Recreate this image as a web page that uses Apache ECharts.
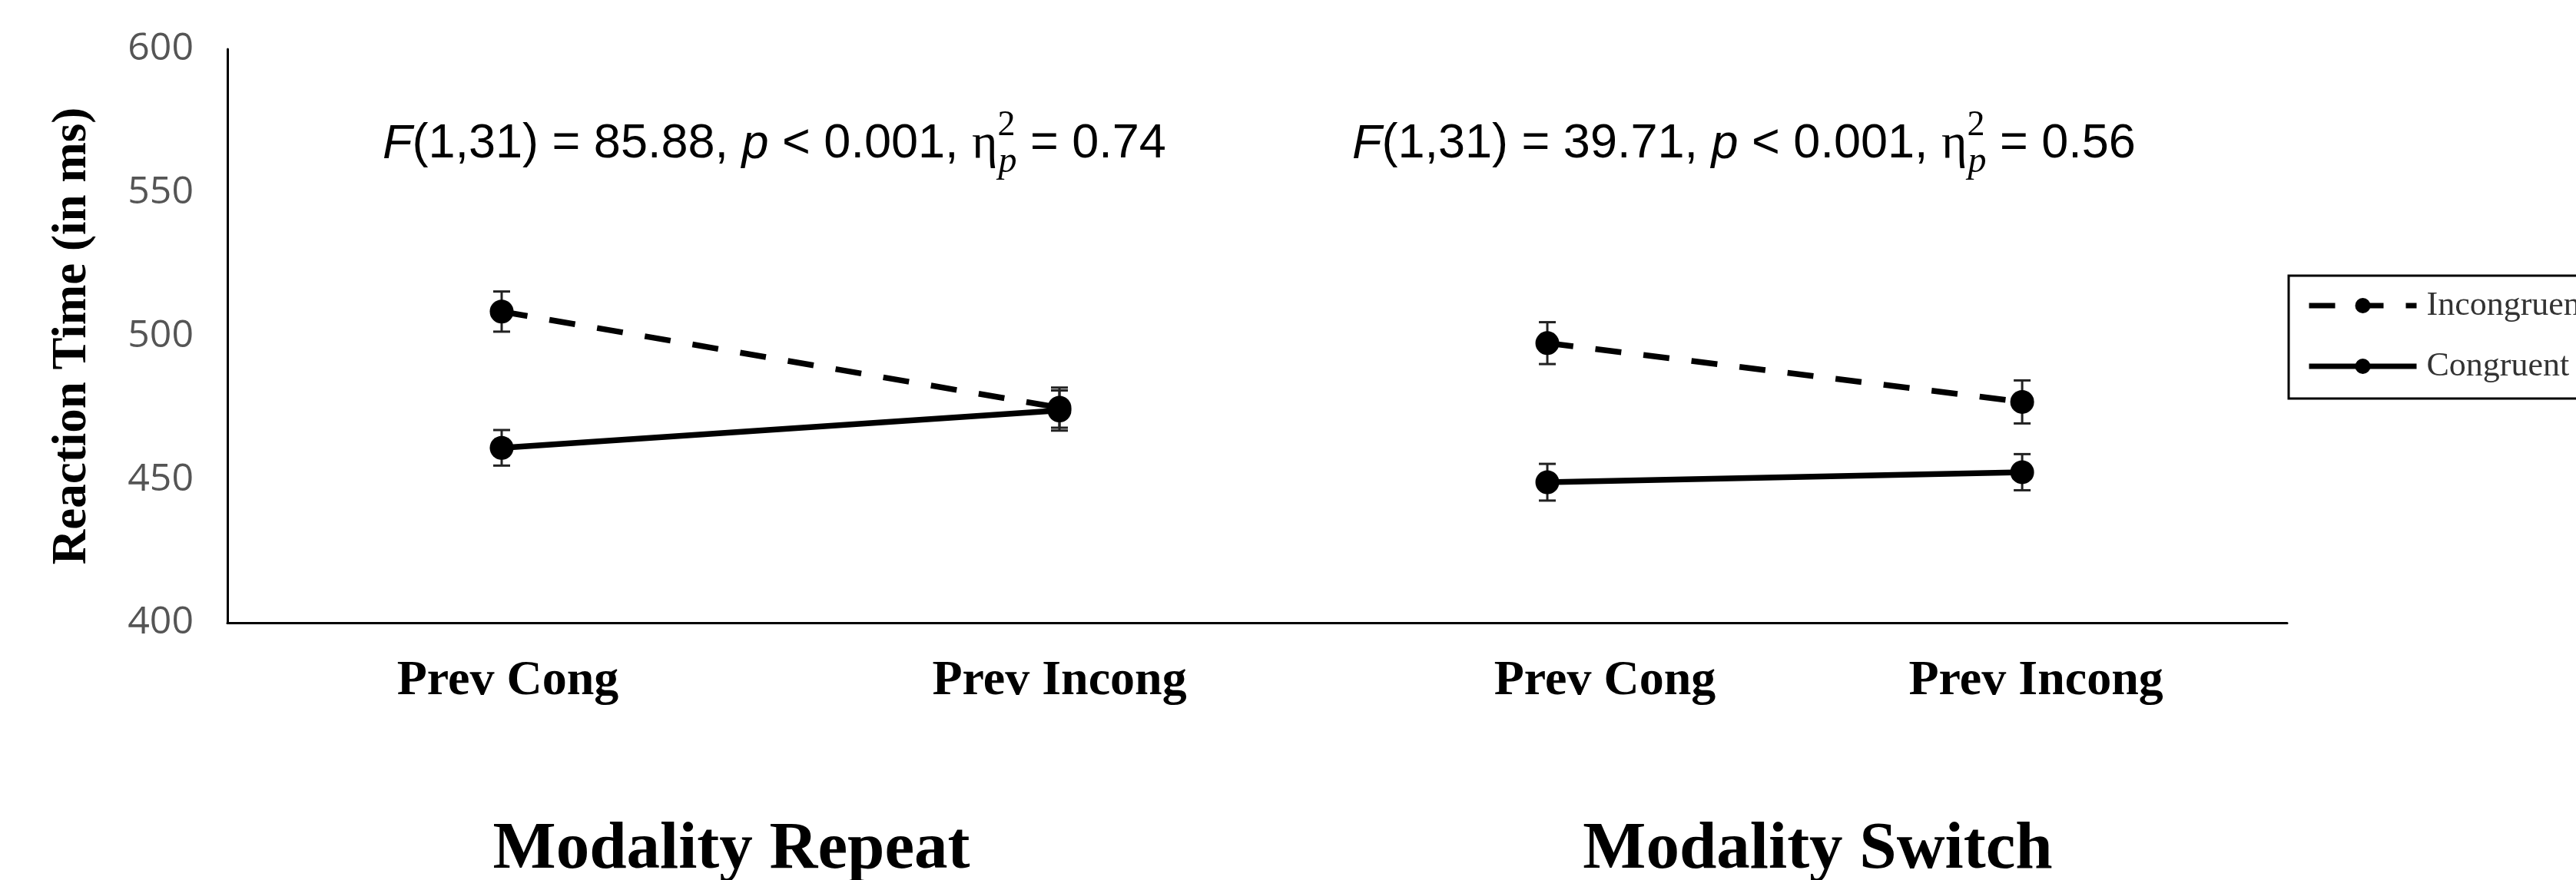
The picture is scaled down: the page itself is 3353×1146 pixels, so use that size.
<!DOCTYPE html>
<html><head><meta charset="utf-8">
<script src="https://cdn.jsdelivr.net/npm/echarts@6/dist/echarts.min.js"></script>
<style>html,body{margin:0;padding:0;background:#fff}#c{width:3353px;height:1146px}</style>
</head><body><div id="c"></div>
<script>
// ---- data ----
const conditions = ['Prev Cong', 'Prev Incong'];
const panelTitles = ['Modality Repeat', 'Modality Switch'];
const seriesNames = ['Incongruent', 'Congruent'];
const yTicks = [400, 450, 500, 550, 600];
const repeatIncongruent = [508.5, 475];
const repeatCongruent = [461, 474];
const switchIncongruent = [497.5, 477];
const switchCongruent = [449, 452.5];
const repeatIncongruentSE = [7, 7];
const repeatCongruentSE = [6.2, 7];
const switchIncongruentSE = [7.3, 7.5];
const switchCongruentSE = [6.4, 6.3];
const statsRepeat = ['85.88', '0.001', '0.74'];
const statsSwitch = ['39.71', '0.001', '0.56'];

// ---- helpers ----
const toPts = vals => vals.map((v, i) => [i, v]);
const toErr = (vals, se) => vals.map((v, i) => [i, v - se[i], v + se[i]]);

function lineSeries(name, vals, gi, dashed) {
  return {
    type: 'line', name, xAxisIndex: gi, yAxisIndex: gi, data: toPts(vals),
    symbol: 'circle', symbolSize: 31, z: 3,
    itemStyle: {color: '#000'},
    lineStyle: {color: '#000', width: 7.5, type: dashed ? [34, 29] : 'solid'}
  };
}
function errSeries(name, vals, se, gi) {
  return {
    type: 'custom', name: name + ' SE', xAxisIndex: gi, yAxisIndex: gi, silent: true, z: 2,
    data: toErr(vals, se),
    renderItem(params, api) {
      const x = api.value(0);
      const lo = api.coord([x, api.value(1)]);
      const hi = api.coord([x, api.value(2)]);
      const w = 11;
      const style = {stroke: '#222', lineWidth: 3};
      return {type: 'group', children: [
        {type: 'line', shape: {x1: lo[0], y1: lo[1], x2: hi[0], y2: hi[1]}, style},
        {type: 'line', shape: {x1: lo[0] - w, y1: lo[1], x2: lo[0] + w, y2: lo[1]}, style},
        {type: 'line', shape: {x1: hi[0] - w, y1: hi[1], x2: hi[0] + w, y2: hi[1]}, style}
      ]};
    }
  };
}
function statText(x, s) {
  return {
    type: 'text', x: x, y: 188, z: 10,
    style: {
      text: '{i|F}{n|(1,31) = ' + s[0] + ', }{i|p}{n| < ' + s[1] + ', }{g|η}{sup|2}{sub|p}{n| = ' + s[2] + '}',
      align: 'left', verticalAlign: 'middle',
      rich: {
        n: {fontFamily: 'Liberation Sans', fontSize: 63, lineHeight: 94, color: '#000'},
        i: {fontFamily: 'Liberation Sans', fontStyle: 'italic', fontSize: 63, lineHeight: 94, color: '#000'},
        g: {fontFamily: 'Liberation Serif', fontSize: 64, lineHeight: 94, color: '#000'},
        sup: {fontFamily: 'Liberation Serif', fontSize: 46, lineHeight: 46, verticalAlign: 'top', width: 1, color: '#000'},
        sub: {fontFamily: 'Liberation Serif', fontStyle: 'italic', fontSize: 48, lineHeight: 48, verticalAlign: 'bottom', color: '#000'}
      }
    }
  };
}
function panelTitle(x, t) {
  return {type: 'text', x: x, y: 1108, style: {text: t, align: 'center', verticalAlign: 'middle',
    fontFamily: 'Liberation Serif', fontWeight: 'bold', fontSize: 87, fill: '#000'}};
}

const labelFont = {fontFamily: 'Liberation Serif', fontWeight: 'bold', fontSize: 64, color: '#000'};
function xLabel(shift) {
  return {
    customValues: [0, 1],
    formatter: v => '{c' + Math.round(v) + '|' + conditions[Math.round(v)] + '}',
    margin: 44,
    rich: {
      c0: Object.assign({padding: [0, 0, 0, shift[0]]}, labelFont),
      c1: Object.assign({padding: [0, 0, 0, shift[1]]}, labelFont)
    }
  };
}
const axisLineStyle = {show: true, onZero: false, lineStyle: {color: '#000', width: 3}};

const chart = echarts.init(document.getElementById('c'));
chart.setOption({
  animation: false,
  backgroundColor: '#fff',
  grid: [
    {left: 296, top: 64, width: 1409, height: 747},
    {left: 1705, top: 64, width: 1272, height: 747}
  ],
  xAxis: [
    {gridIndex: 0, type: 'value', min: -0.4917, max: 1.449, axisLine: axisLineStyle,
     axisTick: {show: false}, splitLine: {show: false}, axisLabel: xLabel([16, 0])},
    {gridIndex: 1, type: 'value', min: -0.5, max: 1.558, axisLine: axisLineStyle,
     axisTick: {show: false}, splitLine: {show: false}, axisLabel: xLabel([150, 36])}
  ],
  yAxis: [
    {gridIndex: 0, type: 'value', min: yTicks[0], max: yTicks[yTicks.length - 1], interval: 50,
     axisLine: axisLineStyle, axisTick: {show: false}, splitLine: {show: false},
     axisLabel: {fontFamily: 'Open Sans', fontSize: 50, color: '#555', margin: 44},
     name: 'Reaction Time (in ms)', nameLocation: 'middle', nameGap: 170,
     nameTextStyle: {fontFamily: 'Liberation Serif', fontWeight: 'bold', fontSize: 63, color: '#000'}},
    {gridIndex: 1, type: 'value', min: yTicks[0], max: yTicks[yTicks.length - 1], show: false}
  ],
  legend: {
    data: seriesNames, orient: 'vertical', left: 2979, top: 359,
    padding: [15, 40, 18, 23], itemGap: 31, itemWidth: 140, itemHeight: 25,
    borderColor: '#000', borderWidth: 3, borderRadius: 0,
    lineStyle: {width: 7},
    textStyle: {fontFamily: 'Liberation Serif', fontSize: 44, color: '#333', lineHeight: 48, padding: [0, 0, 0, 8]}
  },
  graphic: [
    statText(498, statsRepeat),
    statText(1760, statsSwitch),
    panelTitle(952, panelTitles[0]),
    panelTitle(2366, panelTitles[1])
  ],
  series: [
    errSeries(seriesNames[0], repeatIncongruent, repeatIncongruentSE, 0),
    errSeries(seriesNames[1], repeatCongruent, repeatCongruentSE, 0),
    errSeries(seriesNames[0], switchIncongruent, switchIncongruentSE, 1),
    errSeries(seriesNames[1], switchCongruent, switchCongruentSE, 1),
    lineSeries(seriesNames[0], repeatIncongruent, 0, true),
    lineSeries(seriesNames[1], repeatCongruent, 0, false),
    lineSeries(seriesNames[0], switchIncongruent, 1, true),
    lineSeries(seriesNames[1], switchCongruent, 1, false)
  ]
});
</script></body></html>
